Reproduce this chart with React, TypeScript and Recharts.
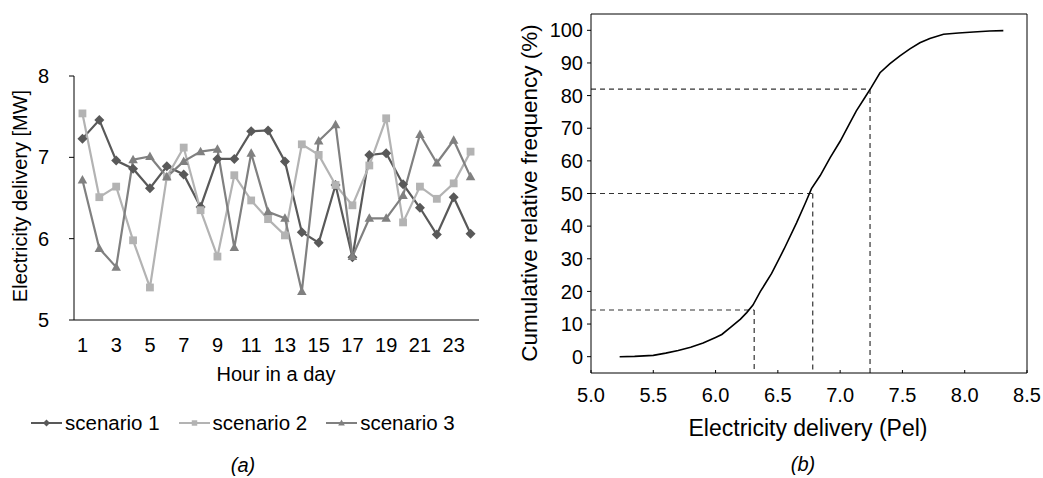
import React from "react";
import { LineChart, Line, XAxis, YAxis, ReferenceLine } from "recharts";

// (a) hourly electricity delivery, three scenarios [MW]
const hours = [1, 2, 3, 4, 5, 6, 7, 8, 9, 10, 11, 12, 13, 14, 15, 16, 17, 18, 19, 20, 21, 22, 23, 24];
const scenario1 = [7.23, 7.46, 6.96, 6.86, 6.62, 6.89, 6.79, 6.39, 6.98, 6.98, 7.32, 7.33, 6.95, 6.08, 5.95, 6.66, 5.77, 7.03, 7.05, 6.67, 6.38, 6.05, 6.51, 6.06];
const scenario2 = [7.54, 6.51, 6.64, 5.98, 5.4, 6.76, 7.12, 6.35, 5.78, 6.78, 6.47, 6.24, 6.04, 7.16, 7.03, 6.66, 6.41, 6.9, 7.48, 6.2, 6.64, 6.49, 6.68, 7.07];
const scenario3 = [6.72, 5.88, 5.65, 6.97, 7.01, 6.76, 6.95, 7.07, 7.1, 5.89, 7.05, 6.33, 6.25, 5.35, 7.2, 7.4, 5.78, 6.25, 6.25, 6.53, 7.28, 6.93, 7.21, 6.76];
const hourLabels = [1, 3, 5, 7, 9, 11, 13, 15, 17, 19, 21, 23];
const mwTicks = [5, 6, 7, 8];

// (b) cumulative relative frequency of electricity delivery
const cdfPel = [5.23, 5.35, 5.5, 5.6, 5.7, 5.8, 5.9, 6.0, 6.05, 6.12, 6.2, 6.25, 6.3, 6.36, 6.45, 6.55, 6.65, 6.72, 6.77, 6.84, 6.92, 7.0, 7.07, 7.13, 7.2, 7.25, 7.32, 7.4, 7.48, 7.56, 7.64, 7.72, 7.83, 7.95, 8.07, 8.2, 8.31];
const cdfFreq = [0, 0.1, 0.4, 1.1, 1.9, 2.9, 4.2, 5.9, 6.8, 9.0, 11.5, 13.5, 15.8, 20.0, 25.5, 33.0, 41.0, 47.0, 51.5, 55.5, 61, 66, 71, 75.3, 79.5, 82.5, 87, 89.8, 92.2, 94.3, 96.2, 97.5, 98.8, 99.2, 99.5, 99.8, 99.9];
const pelTicks = [5, 5.5, 6, 6.5, 7, 7.5, 8, 8.5];
const freqTicks = [0, 10, 20, 30, 40, 50, 60, 70, 80, 90, 100];
const quantPel = [6.31, 6.78, 7.24];
const quantFreq = [14.3, 50, 82];

const FONT = "'Liberation Sans', Arial, Helvetica, sans-serif";
const C1 = "#595959";
const C2 = "#b3b3b3";
const C3 = "#808080";

const hourly = hours.map((h, i) => ({ hour: h, s1: scenario1[i], s2: scenario2[i], s3: scenario3[i] }));
const hourEdges = [0.5, ...hours.map((h) => h + 0.5)];
const cdf = cdfPel.map((p, i) => ({ pel: p, freq: cdfFreq[i] }));

function Marker(props: { kind: string; cx?: number; cy?: number; color: string; r?: number }) {
  const { kind, cx, cy, color } = props;
  if (cx == null || cy == null) return null;
  const r = props.r ?? 5;
  if (kind === "diamond") {
    return <path d={`M${cx},${cy - r}L${cx + r},${cy}L${cx},${cy + r}L${cx - r},${cy}Z`} fill={color} />;
  }
  if (kind === "square") {
    const s = r * 0.78;
    return <rect x={cx - s} y={cy - s} width={s * 2} height={s * 2} fill={color} />;
  }
  return <path d={`M${cx},${cy - r}L${cx + r * 0.95},${cy + r * 0.7}L${cx - r * 0.95},${cy + r * 0.7}Z`} fill={color} />;
}

const series = [
  { key: "s1", name: "scenario 1", color: C1, kind: "diamond" },
  { key: "s2", name: "scenario 2", color: C2, kind: "square" },
  { key: "s3", name: "scenario 3", color: C3, kind: "triangle" },
];

function Abs(props: { x: number; y: number; rotate?: boolean; size?: number; italic?: boolean; children: React.ReactNode }) {
  return (
    <div
      style={{
        position: "absolute",
        left: props.x,
        top: props.y,
        transform: `translate(-50%, -50%)${props.rotate ? " rotate(-90deg)" : ""}`,
        whiteSpace: "nowrap",
        fontSize: props.size ?? 20,
        fontStyle: props.italic ? "italic" : "normal",
        color: "#000",
        lineHeight: 1,
      }}
    >
      {props.children}
    </div>
  );
}

export default function App() {
  const tickStyle = { fill: "#000", fontSize: 20, fontFamily: FONT };
  return (
    <div style={{ position: "absolute", left: 0, top: 0, width: 1043, height: 478, background: "#fff", fontFamily: FONT }}>
      {/* (a) */}
      <div style={{ position: "absolute", left: 0, top: 0 }}>
        <LineChart width={500} height={400} data={hourly} margin={{ top: 76, right: 21, bottom: 78, left: 0 }}>
          <XAxis
            xAxisId="edges"
            type="number"
            dataKey="hour"
            domain={[0.5, 24.5]}
            ticks={hourEdges}
            interval={0}
            tick={false}
            tickSize={5}
            height={1}
            axisLine={{ stroke: "#000" }}
            tickLine={{ stroke: "#000" }}
          />
          <XAxis
            xAxisId="labels"
            type="number"
            dataKey="hour"
            domain={[0.5, 24.5]}
            ticks={hourLabels}
            interval={0}
            axisLine={false}
            tickLine={false}
            tickSize={0}
            tickMargin={17}
            height={1}
            tick={tickStyle}
          />
          <YAxis
            domain={[5, 8]}
            ticks={mwTicks}
            interval={0}
            width={74}
            tickSize={5}
            tickMargin={20}
            axisLine={{ stroke: "#000" }}
            tickLine={{ stroke: "#000" }}
            tick={tickStyle}
          />
          {series.map((s) => (
            <Line
              key={s.key}
              xAxisId="edges"
              dataKey={s.key}
              type="linear"
              stroke={s.color}
              strokeWidth={2.2}
              isAnimationActive={false}
              dot={(p: any) => <Marker key={`${s.key}-${p.index}`} kind={s.kind} cx={p.cx} cy={p.cy} color={s.color} />}
              activeDot={false}
            />
          ))}
        </LineChart>
      </div>
      <Abs x={20} y={196} rotate>Electricity delivery [MW]</Abs>
      <Abs x={276} y={374}>Hour in a day</Abs>
      <div style={{ position: "absolute", left: 31, top: 412, display: "flex", alignItems: "center", fontSize: 20.5, lineHeight: "22px" }}>
        {series.map((s, i) => (
          <div key={s.key} style={{ display: "flex", alignItems: "center", marginRight: i < 2 ? 19 : 0 }}>
            <svg width={31} height={12} style={{ marginRight: 3 }}>
              <line x1={0} y1={6} x2={31} y2={6} stroke={s.color} strokeWidth={2} />
              <Marker kind={s.kind} cx={15.5} cy={6} color={s.color} r={3.5} />
            </svg>
            <span>{s.name}</span>
          </div>
        ))}
      </div>
      <Abs x={243} y={465} italic>(a)</Abs>

      {/* (b) */}
      <div style={{ position: "absolute", left: 500, top: 0 }}>
        <LineChart width={543} height={478} data={cdf} margin={{ top: 13, right: 15, bottom: 104, left: 0 }}>
          <XAxis
            type="number"
            dataKey="pel"
            domain={[5, 8.5]}
            ticks={pelTicks}
            interval={0}
            tickFormatter={(v: number) => v.toFixed(1)}
            height={1}
            tickSize={-3}
            tickMargin={18}
            axisLine={{ stroke: "#000" }}
            tickLine={{ stroke: "#000" }}
            tick={tickStyle}
          />
          <XAxis xAxisId="top" orientation="top" type="number" domain={[5, 8.5]} height={1} tick={false} tickLine={false} axisLine={{ stroke: "#000" }} />
          <YAxis
            domain={[-5, 105]}
            ticks={freqTicks}
            interval={0}
            width={91}
            tickSize={4}
            tickMargin={4}
            axisLine={{ stroke: "#000" }}
            tickLine={{ stroke: "#000" }}
            tick={tickStyle}
          />
          <YAxis yAxisId="right" orientation="right" domain={[-5, 105]} width={1} tick={false} tickLine={false} axisLine={{ stroke: "#000" }} />
          {quantPel.map((q, i) => (
            <ReferenceLine
              key={`h${i}`}
              segment={[{ x: 5, y: quantFreq[i] }, { x: q, y: quantFreq[i] }]}
              stroke="#333"
              strokeWidth={1.2}
              strokeDasharray="5 4"
            />
          ))}
          {quantPel.map((q, i) => (
            <ReferenceLine
              key={`v${i}`}
              segment={[{ x: q, y: quantFreq[i] }, { x: q, y: -5 }]}
              stroke="#333"
              strokeWidth={1.2}
              strokeDasharray="5 4"
            />
          ))}
          <Line dataKey="freq" type="linear" stroke="#000" strokeWidth={1.6} dot={false} activeDot={false} isAnimationActive={false} />
        </LineChart>
      </div>
      <Abs x={530} y={193} rotate size={22.5}>Cumulative relative frequency (%)</Abs>
      <Abs x={808} y={428} size={23}>Electricity delivery (Pel)</Abs>
      <Abs x={803} y={464} italic>(b)</Abs>
    </div>
  );
}
